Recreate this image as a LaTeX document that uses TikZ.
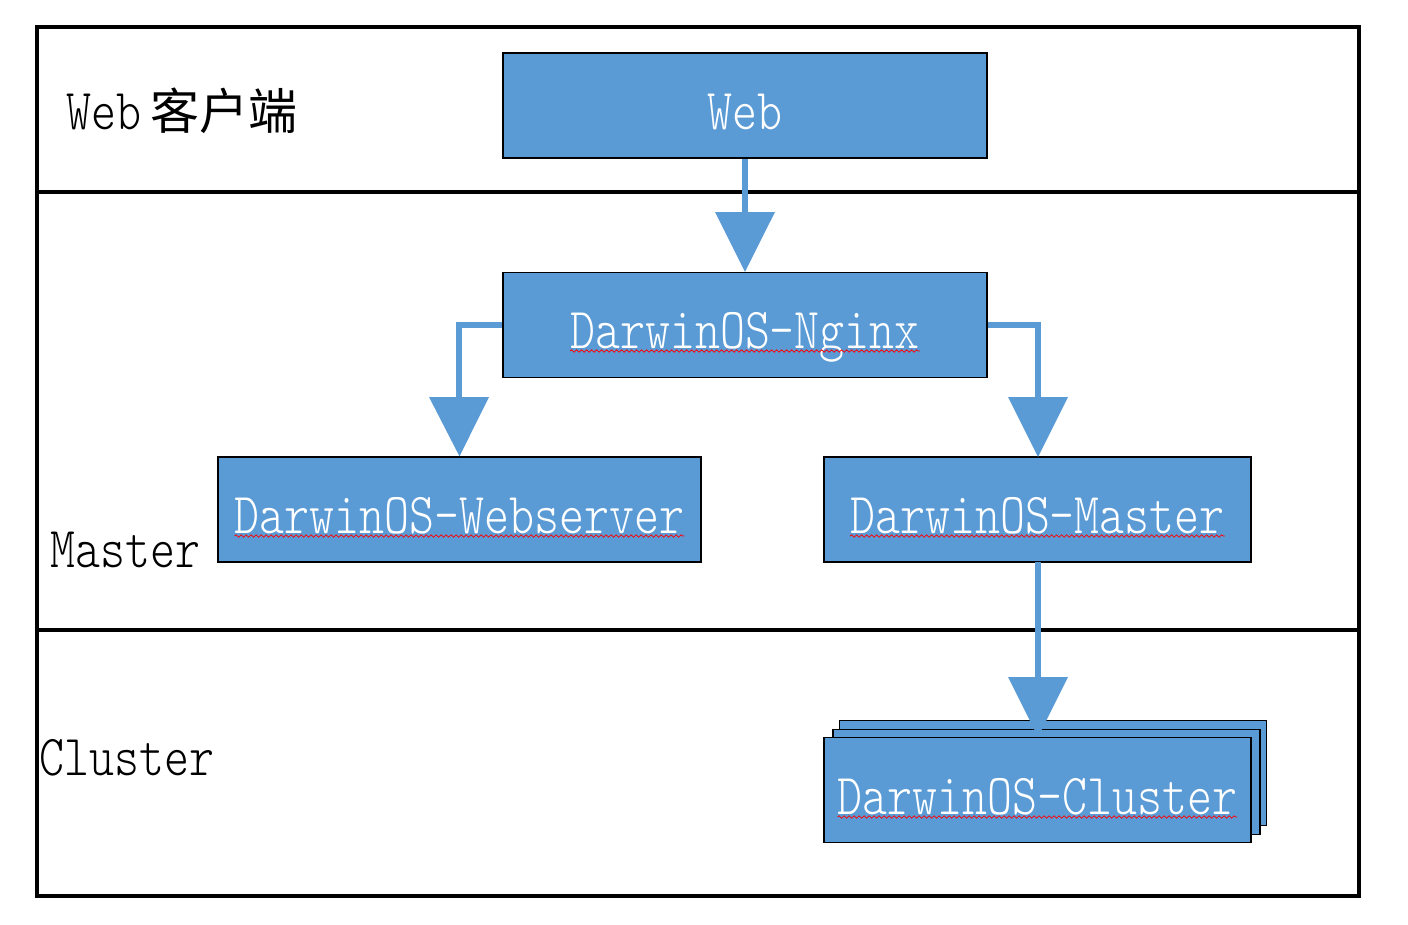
\documentclass[tikz,border=0pt]{standalone}
\usepackage{fontspec}
\newfontfamily\simfont[FakeStretch=0.82]{lmmonolt10-regular.otf}
\newfontfamily\cjk{Noto Sans CJK SC}
\usetikzlibrary{decorations.pathmorphing}
\definecolor{boxblue}{HTML}{5B9BD5}
\tikzset{
  frameline/.style={line width=4.8pt, black},
  blbox/.style={draw=black, line width=1.3pt, fill=boxblue, minimum width=#1, minimum height=105pt, inner sep=0pt},
  blbox/.default=484pt,
  boxtext/.style={font=\simfont\fontsize{58pt}{64pt}\selectfont, text=white, inner sep=0pt, anchor=base},
  lanetext/.style={font=\simfont\fontsize{58pt}{64pt}\selectfont, text=black, inner sep=0pt, anchor=base west},
  conn/.style={draw=boxblue, line width=6pt},
  tipshape/.style={fill=boxblue, draw=none},
  wavy/.style={draw=red, line width=0.8pt, decorate, decoration={snake, amplitude=1.2pt, segment length=5pt}}
}
\begin{document}
\begin{tikzpicture}[x=1pt, y=-1pt]
\useasboundingbox (0,0) rectangle (1408,924);
% frame
\coordinate (tl) at (37,27);
\coordinate (tr) at (1359,27);
\coordinate (bl) at (37,896);
\coordinate (br) at (1359,896);
\coordinate (l1) at (37,192);
\coordinate (r1) at (1359,192);
\coordinate (l2) at (37,630);
\coordinate (r2) at (1361,630);
\draw[frameline] (tl) -- (tr) -- (br) -- (bl) -- cycle;
\draw[frameline] (l1) -- (r1);
\draw[frameline] (l2) -- (r2);

% lane labels
\node[lanetext] (lweb) at (66,129) {Web\hspace{9pt}{\cjk\fontsize{49pt}{60pt}\selectfont 客户端}};
\node[lanetext] (lmaster) at (50,567) {Master};
\node[lanetext] (lcluster) at (39,775) {Cluster};

% boxes
\node[blbox] (web) at (745,105.5) {};
\node[blbox] (nginx) at (745,325) {};
\node[blbox=483pt] (websrv) at (459.5,509.5) {};
\node[blbox=427pt] (master) at (1037.5,509.5) {};
\node[blbox=427pt] (cl3) at (1053,773) {};
\node[blbox=427pt] (cl2) at (1046.5,782) {};
\node[blbox=427pt] (cluster) at (1037.5,790) {};

% box texts
\node[boxtext] (twebt) at ([yshift=-24pt]web.center) {Web};
\node[boxtext] (tnginx) at ([yshift=-23pt]nginx.center) {DarwinOS-Nginx};
\node[boxtext] (twebsrv) at ([yshift=-23.5pt]websrv.center) {DarwinOS-Webserver};
\node[boxtext] (tmaster) at ([yshift=-23.5pt]master.center) {DarwinOS-Master};
\node[boxtext] (tcluster) at ([yshift=-24pt]cluster.center) {DarwinOS-Cluster};

% spell-check underlines
\foreach \t in {tnginx,twebsrv,tmaster,tcluster}{
  \draw[wavy] ([yshift=-3pt]\t.base west) -- ([yshift=-3pt]\t.base east);
}

% connectors
% web -> nginx
\coordinate (a1) at (745,213);
\draw[conn] (web.south) -- (a1);
\fill[tipshape] (715,212) -- (775,212) -- (nginx.north) -- cycle;
% nginx -> webserver
\coordinate (b0) at (459,325);
\coordinate (b1) at (459,398);
\draw[conn] (nginx.west |- b0) -- (b0) -- (b1);
\fill[tipshape] (429,397) -- (489,397) -- (websrv.north) -- cycle;
% nginx -> master
\coordinate (c0) at (1038,325);
\coordinate (c1) at (1038,398);
\draw[conn] (nginx.east |- c0) -- (c0) -- (c1);
\fill[tipshape] (1008,397) -- (1068,397) -- (1038,457) -- cycle;
% master -> cluster
\coordinate (d1) at (1038,678);
\draw[conn] (1038,562) -- (d1);
\fill[tipshape] (1008,677) -- (1068,677) -- (1038,737) -- cycle;
\end{tikzpicture}
\end{document}
